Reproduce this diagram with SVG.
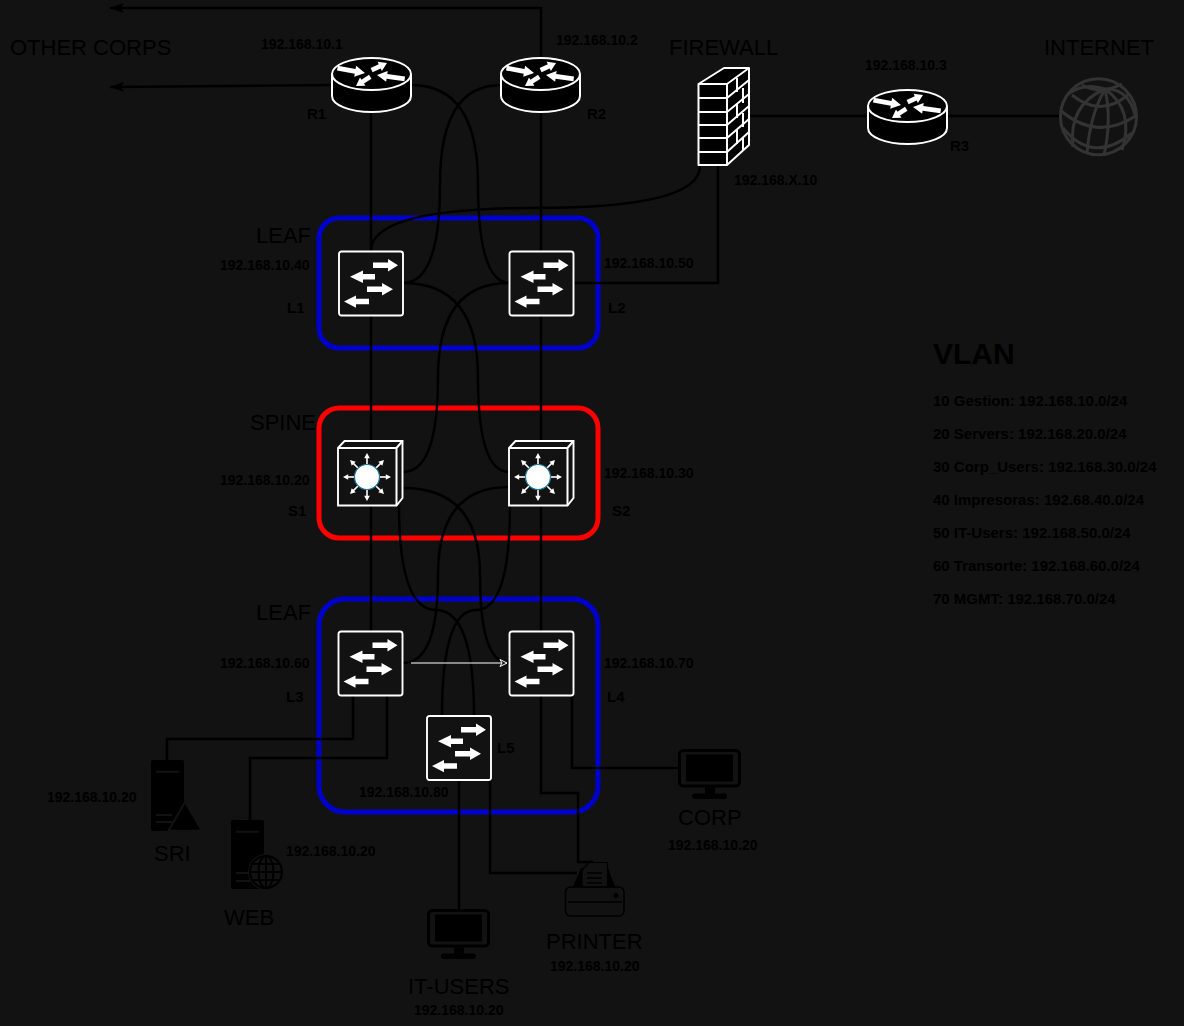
<svg xmlns="http://www.w3.org/2000/svg" xmlns:xlink="http://www.w3.org/1999/xlink" width="1184" height="1026" viewBox="0 0 1184 1026">
<style>
text{font-family:"Liberation Sans",Arial,sans-serif;fill:#000}
.ip{font-size:14px;font-weight:bold}
.tag{font-size:15px;font-weight:bold}
.ttl{font-size:22px}
.vl{font-size:15px;font-weight:bold}
.grp{fill:none;stroke-width:5}
.c{fill:none;stroke:#000;stroke-width:2.5}
.w{fill:#121212;stroke:#fff;stroke-width:1.9}
.b{fill:#000;stroke:#fff;stroke-width:2}
.fw{fill:#000;stroke:#fff;stroke-width:2;stroke-linejoin:round}
.wl{fill:none;stroke:#fff;stroke-width:2}
.gl{fill:none;stroke:#333;stroke-width:3}
.k{fill:#000}
.kl{fill:none;stroke:#000;stroke-width:2}
</style>
<defs>
<marker id="ah" markerUnits="userSpaceOnUse" markerWidth="16" markerHeight="12" refX="15" refY="6" orient="auto"><path d="M1,1 L15,6 L1,11 L4,6 Z" fill="#000"/></marker>
<marker id="ow" markerUnits="userSpaceOnUse" markerWidth="10" markerHeight="10" refX="8" refY="5" orient="auto"><path d="M1,1.5 L8,5 L1,8.5 L3,5 Z" fill="#121212" stroke="#fff" stroke-width="1"/></marker>
<polygon id="al" fill="#fff" points="-28,-2.4 -10,-2.4 -10,-5.5 0,0 -10,5.5 -10,2.4 -28,2.4"/>
<polygon id="as" fill="#fff" points="-17,-2.3 -8,-2.3 -8,-5 0,0 -8,5 -8,2.3 -17,2.3"/>
<g id="router">
<path class="b" d="M0,16 V38 C0,47 18,54 39.5,54 S79,47 79,38 V16"/>
<ellipse class="b" cx="39.5" cy="16" rx="39.5" ry="16"/>
<use href="#al" transform="translate(33,15) rotate(10)"/>
<use href="#as" transform="translate(55,5) rotate(-25)"/>
<use href="#al" transform="translate(45,17) rotate(188)"/>
<use href="#as" transform="translate(24,28) rotate(147)"/>
</g>
<g id="switch">
<rect class="w" x="0" y="0" width="64" height="64" rx="2.5"/>
<polygon fill="#fff" points="34,11 49,11 49,7.5 59,13.7 49,20 49,16.5 34,16.5"/>
<polygon fill="#fff" points="36,22.5 24,22.5 24,19 11,25.3 24,31.5 24,28 36,28"/>
<polygon fill="#fff" points="28,35 43,35 43,31.5 54,37.7 43,44 43,40.5 28,40.5"/>
<polygon fill="#fff" points="30,47.3 17,47.3 17,44 5,50 17,56.2 17,52.8 30,52.8"/>
</g>
<g id="spoke"><path d="M0,-12 V-20" stroke="#fff" stroke-width="1.6"/><polygon fill="#fff" points="0,-24 2.8,-18.8 -2.8,-18.8"/></g>
<g id="spine">
<path class="w" d="M0,7 L6.5,0 H64.5 V57 L58.5,64.5 H0 Z"/>
<path class="wl" d="M0,7 H58.5 V64.5 M58.5,7 L64.5,0"/>
<use href="#spoke" transform="translate(29,36)"/>
<use href="#spoke" transform="translate(29,36) rotate(45)"/>
<use href="#spoke" transform="translate(29,36) rotate(90)"/>
<use href="#spoke" transform="translate(29,36) rotate(135)"/>
<use href="#spoke" transform="translate(29,36) rotate(180)"/>
<use href="#spoke" transform="translate(29,36) rotate(225)"/>
<use href="#spoke" transform="translate(29,36) rotate(270)"/>
<use href="#spoke" transform="translate(29,36) rotate(315)"/>
<circle cx="29" cy="36" r="12.5" fill="#fff" stroke="#1a7a9f" stroke-width="1.2"/>
</g>
<g id="monitor">
<rect x="1.5" y="1.5" width="60" height="35.5" rx="4" fill="none" stroke="#000" stroke-width="3"/>
<rect x="8" y="5.5" width="47" height="27" fill="#000"/>
<rect x="27" y="38" width="10" height="8" fill="#000"/>
<rect x="14" y="44.5" width="35" height="5.5" rx="2.7" fill="#000"/>
</g>
</defs>
<rect width="1184" height="1026" fill="#121212"/>
<g id="groups">
<rect id="grp-leaf-top" class="grp" x="319" y="218" width="279" height="130" rx="20" stroke="#0000cc"/>
<rect id="grp-spine" class="grp" x="319" y="408" width="279" height="130" rx="20" stroke="#ff0000"/>
<rect id="grp-leaf-bottom" class="grp" x="319" y="599" width="279" height="213" rx="26" stroke="#0000cc"/>
</g>
<g id="connectors">
<path class="c" d="M541,60 V8 H110" marker-end="url(#ah)"/>
<path class="c" d="M332,85 L110,87" marker-end="url(#ah)"/>
<path class="c" d="M371,112 V632"/>
<path class="c" d="M541,112 V793 H578 V862 H593"/>
<path class="c" d="M411,85 Q478,85 478,184 Q478,283 510,283"/>
<path class="c" d="M501,85 Q440,85 440,184 Q440,283 403,283"/>
<path class="c" d="M700,166 Q700,208 535,208 Q371,208 371,251"/>
<path class="c" d="M718,166 V283 H573"/>
<path class="c" d="M749,116 H1060"/>
<path class="c" d="M403,283 Q478,283 478,377 Q478,472 509,472"/>
<path class="c" d="M509,283 Q438,283 438,377 Q438,472 403,472"/>
<path class="c" d="M403,488 Q480,488 480,575 Q480,663 509,663"/>
<path class="c" d="M509,487 Q438,487 438,575 Q438,663 403,663"/>
<path class="c" d="M399,505 Q399,610 436,610 Q474,610 474,716"/>
<path class="c" d="M510,505 Q510,610 476,610 Q442,610 442,716"/>
<path d="M411,663 H507" stroke="#fff" stroke-width="1" fill="none" marker-end="url(#ow)"/>
<path class="c" d="M353,695 V739 H167 V760"/>
<path class="c" d="M387,695 V758 H250 V820"/>
<path class="c" d="M572,695 V768 H678"/>
<path class="c" d="M459,780 V909"/>
<path class="c" d="M490,780 V873 H577"/>
</g>
<g id="R1"><use href="#router" x="332" y="58"/></g>
<g id="R2"><use href="#router" x="501" y="58"/></g>
<g id="R3"><use href="#router" x="868" y="90"/></g>
<g id="FW">
<path class="fw" d="M698.5,84 L724,68 H749 V145 L727,165 H698.5 Z"/>
<path class="wl" d="M698.5,84 H727 V165 M727,84 L749,68 M698.5,98 H727 M698.5,112 H727 M698.5,125 H727 M698.5,138 H727 M698.5,152 H727"/>
<path class="wl" d="M727,98 L749,80 M727,112 L749,94 M727,125 L749,106 M727,138 L749,119 M727,152 L749,132 M737,78 V92 M743,88 V103 M737,104 V118 M743,113 V127 M737,130 V144 M743,137 V150"/>
</g>
<g id="INET">
<circle class="gl" cx="1098.5" cy="116.7" r="38"/>
<path class="gl" d="M1105,89 Q1068,105 1073,147 M1105,89 Q1090,115 1087,153 M1105,89 Q1112,120 1104,155 M1105,89 Q1135,110 1122,150 M1105,89 Q1128,88 1135,115 M1105,89 Q1085,82 1068,94"/>
<path class="gl" d="M1082,85 Q1100,95 1122,84 M1072,95 Q1100,118 1128,95 M1060,110 Q1097,142 1137,115 M1063,128 Q1093,165 1132,133"/>
</g>
<g id="L1"><use href="#switch" x="339" y="251.5"/></g>
<g id="L2"><use href="#switch" x="509.5" y="251.5"/></g>
<g id="S1"><use href="#spine" x="338" y="441"/></g>
<g id="S2"><use href="#spine" x="509" y="441"/></g>
<g id="L3"><use href="#switch" x="338.5" y="631.5"/></g>
<g id="L4"><use href="#switch" x="509.5" y="631.5"/></g>
<g id="L5"><use href="#switch" x="427" y="716"/></g>
<g id="SRI">
<rect class="k" x="151" y="760" width="33" height="71" rx="2"/>
<path d="M156,771.7 H179 M156,815 H172 M156,822 H172" stroke="#121212" stroke-width="2"/>
<polygon class="k" points="185,802 202,830.7 168.5,830.7" stroke="#121212" stroke-width="2"/>
</g>
<g id="WEB">
<rect class="k" x="231" y="820" width="33" height="69" rx="2"/>
<path d="M236,831.7 H259 M236,873 H250 M236,881 H250" stroke="#121212" stroke-width="2"/>
<circle cx="266" cy="872" r="18" fill="#121212"/>
<circle class="kl" cx="266" cy="872" r="16"/>
<ellipse class="kl" cx="266" cy="872" rx="7.5" ry="16"/>
<path class="kl" d="M250,872 H282 M253,864 H279 M253,880 H279 M266,856 V888"/>
</g>
<g id="CORP"><use href="#monitor" x="678" y="749"/></g>
<g id="ITU"><use href="#monitor" x="427" y="909"/></g>
<g id="PRN">
<polygon class="k" points="573,887 581,868 608,868 615,887"/>
<path d="M582,887 V870 L589,862.5 H607.5 V887 Z" fill="#121212" stroke="#000" stroke-width="1.2"/>
<path d="M587,873 H602 M587,878 H602 M587,883 H602" fill="none" stroke="#000" stroke-width="1.4"/>
<rect x="565.5" y="887" width="58.5" height="29" rx="5" fill="none" stroke="#000" stroke-width="1.5"/>
<path d="M568,902 H622" stroke="#000" stroke-width="1.5"/>
<circle class="k" cx="616" cy="895.5" r="2.5"/>
</g>
<g id="labels">
<text class="ttl" x="10" y="55">OTHER CORPS</text>
<text class="ttl" x="669" y="55">FIREWALL</text>
<text class="ttl" x="1044" y="55">INTERNET</text>
<text class="ttl" x="256" y="243">LEAF</text>
<text class="ttl" x="250" y="430">SPINE</text>
<text class="ttl" x="256" y="620">LEAF</text>
<text class="ttl" x="154" y="861">SRI</text>
<text class="ttl" x="224" y="925">WEB</text>
<text class="ttl" x="408" y="994">IT-USERS</text>
<text class="ttl" x="546" y="949">PRINTER</text>
<text class="ttl" x="678" y="825">CORP</text>
<text class="ip" x="261" y="49">192.168.10.1</text>
<text class="ip" x="556" y="45">192.168.10.2</text>
<text class="ip" x="865" y="70">192.168.10.3</text>
<text class="ip" x="734" y="185">192.168.X.10</text>
<text class="ip" x="220" y="270">192.168.10.40</text>
<text class="ip" x="604" y="268">192.168.10.50</text>
<text class="ip" x="220" y="485">192.168.10.20</text>
<text class="ip" x="604" y="478">192.168.10.30</text>
<text class="ip" x="220" y="668">192.168.10.60</text>
<text class="ip" x="604" y="668">192.168.10.70</text>
<text class="ip" x="359" y="797">192.168.10.80</text>
<text class="ip" x="47" y="802">192.168.10.20</text>
<text class="ip" x="286" y="856">192.168.10.20</text>
<text class="ip" x="414" y="1015">192.168.10.20</text>
<text class="ip" x="550" y="971">192.168.10.20</text>
<text class="ip" x="668" y="850">192.168.10.20</text>
<text class="tag" x="307" y="119">R1</text>
<text class="tag" x="587" y="119">R2</text>
<text class="tag" x="950" y="151">R3</text>
<text class="tag" x="287" y="313">L1</text>
<text class="tag" x="608" y="313">L2</text>
<text class="tag" x="288" y="516">S1</text>
<text class="tag" x="612" y="516">S2</text>
<text class="tag" x="286" y="702">L3</text>
<text class="tag" x="607" y="702">L4</text>
<text class="tag" x="497" y="753">L5</text>
<text x="933" y="364" font-size="30" font-weight="bold">VLAN</text>
<text class="vl" x="933" y="406">10 Gestion: 192.168.10.0/24</text>
<text class="vl" x="933" y="439">20 Servers: 192.168.20.0/24</text>
<text class="vl" x="933" y="472">30 Corp_Users: 192.168.30.0/24</text>
<text class="vl" x="933" y="505">40 Impresoras: 192.68.40.0/24</text>
<text class="vl" x="933" y="538">50 IT-Users: 192.168.50.0/24</text>
<text class="vl" x="933" y="571">60 Transorte: 192.168.60.0/24</text>
<text class="vl" x="933" y="604">70 MGMT: 192.168.70.0/24</text>
</g>
</svg>
